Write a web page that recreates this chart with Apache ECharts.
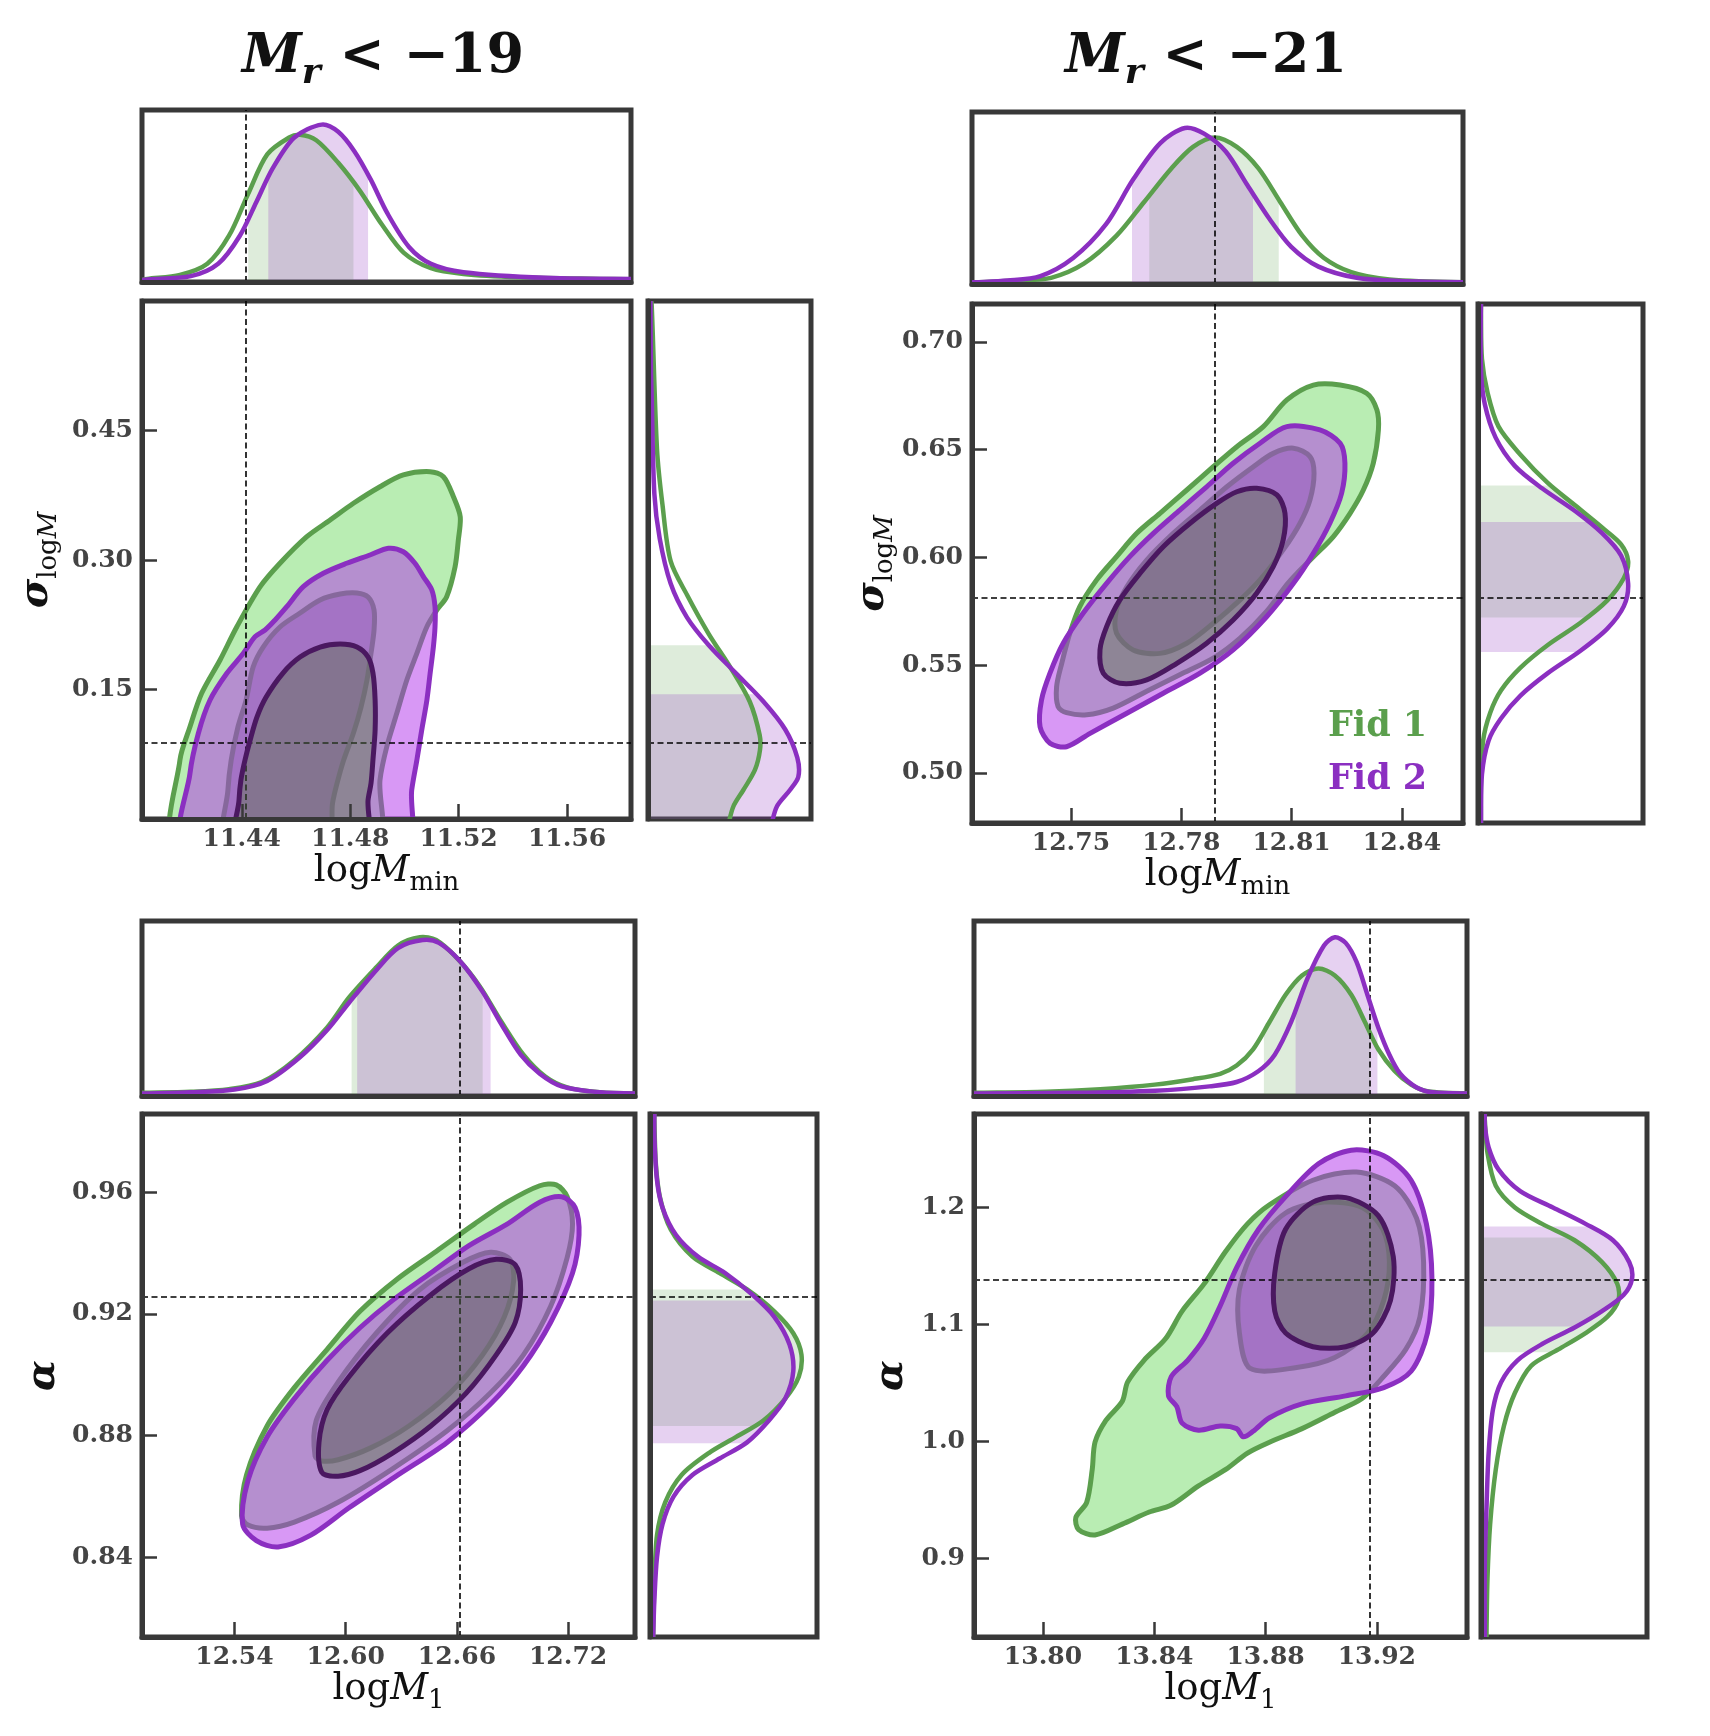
<!DOCTYPE html>
<html><head><meta charset="utf-8">
<script src="https://cdn.jsdelivr.net/npm/echarts@6/dist/echarts.min.js"></script>
<style>html,body{margin:0;padding:0;background:#fff}#c{width:1710px;height:1736px}</style>
</head><body><div id="c"></div><script>
// ---------------- DATA ----------------
// Panel A: Mr < -19, logMmin vs sigma_logM
const xTicksA = [11.44, 11.48, 11.52, 11.56];
const yTicksA = [0.15, 0.30, 0.45];
const truthA = [11.4416, 0.0884];
const fid1OuterA = [[11.4160,-0.03],[11.4172,0.0683],[11.4209,0.1069],[11.4252,0.1456],[11.4320,0.1842],[11.4382,0.2227],[11.4468,0.2691],[11.4541,0.2962],[11.4640,0.3270],[11.4726,0.3463],[11.4812,0.3657],[11.4910,0.3849],[11.4996,0.3985],[11.5095,0.4023],[11.5144,0.3965],[11.5181,0.3733],[11.5206,0.3502],[11.5199,0.3232],[11.5187,0.2922],[11.5156,0.2575],[11.5120,0.2421],[11.5083,0.2227],[11.5046,0.1919],[11.5009,0.1610],[11.4972,0.1224],[11.4935,0.0837],[11.4910,0.0452],[11.4895,-0.03]];
const fid1InnerA = [[11.4342,-0.03],[11.4349,0.0336],[11.4361,0.0683],[11.4386,0.1066],[11.4416,0.1378],[11.4442,0.1761],[11.4479,0.1992],[11.4541,0.2224],[11.4615,0.2386],[11.4689,0.2537],[11.4763,0.2606],[11.4825,0.2618],[11.4866,0.2571],[11.4888,0.2421],[11.4888,0.2189],[11.4877,0.1923],[11.4862,0.1610],[11.4840,0.1297],[11.4812,0.0996],[11.4776,0.0683],[11.4750,0.0394],[11.4735,0.0185],[11.4712,-0.03]];
const fid2OuterA = [[11.4191,-0.03],[11.4209,0.0529],[11.4240,0.0993],[11.4283,0.1378],[11.4345,0.1688],[11.4406,0.1919],[11.4449,0.2112],[11.4486,0.2189],[11.4523,0.2305],[11.4566,0.2459],[11.4627,0.2691],[11.4701,0.2846],[11.4787,0.2962],[11.4873,0.3058],[11.4941,0.3136],[11.4996,0.3096],[11.5039,0.2962],[11.5070,0.2807],[11.5101,0.2653],[11.5113,0.2459],[11.5113,0.2227],[11.5107,0.1996],[11.5095,0.1688],[11.5083,0.1378],[11.5064,0.1031],[11.5046,0.0683],[11.5027,0.0336],[11.5005,-0.03]];
const fid2InnerA = [[11.4384,-0.03],[11.4390,0.0220],[11.4397,0.0452],[11.4412,0.0683],[11.4431,0.0915],[11.4456,0.1181],[11.4490,0.1413],[11.4552,0.1691],[11.4615,0.1876],[11.4689,0.1992],[11.4763,0.2027],[11.4825,0.1992],[11.4866,0.1876],[11.4884,0.1691],[11.4892,0.1378],[11.4892,0.1031],[11.4884,0.0683],[11.4877,0.0417],[11.4866,0.0220],[11.4855,-0.03]];
const fid1TopA = [[11.4032,0.012],[11.4051,0.018],[11.4172,0.041],[11.4273,0.106],[11.4353,0.269],[11.4424,0.514],[11.4494,0.742],[11.4575,0.840],[11.4615,0.856],[11.4675,0.824],[11.4756,0.693],[11.4836,0.530],[11.4917,0.334],[11.4997,0.171],[11.5098,0.080],[11.5218,0.047],[11.5420,0.028],[11.5721,0.018],[11.5836,0.016]];
const fid2TopA = [[11.4032,0.012],[11.4051,0.015],[11.4212,0.034],[11.4313,0.106],[11.4393,0.269],[11.4454,0.465],[11.4514,0.660],[11.4594,0.840],[11.4695,0.915],[11.4756,0.873],[11.4816,0.759],[11.4876,0.595],[11.4937,0.400],[11.5017,0.204],[11.5098,0.106],[11.5218,0.057],[11.5520,0.024],[11.5836,0.018]];
const fid1RightA = [[0.015,0.600],[0.022,0.598],[0.055,0.4287],[0.089,0.3636],[0.139,0.2986],[0.239,0.2597],[0.373,0.2142],[0.507,0.1751],[0.624,0.1361],[0.685,0.0972],[0.687,0.0799],[0.656,0.0568],[0.585,0.0336],[0.523,0.0142],[0.490,-0.01]];
const fid2RightA = [[0.015,0.600],[0.018,0.52],[0.022,0.4937],[0.039,0.3767],[0.072,0.3247],[0.139,0.2727],[0.239,0.2336],[0.373,0.2012],[0.540,0.1687],[0.708,0.1361],[0.842,0.1037],[0.916,0.0711],[0.922,0.0486],[0.871,0.0336],[0.790,0.0143],[0.755,-0.01]];
const band1TopA = [11.4424, 11.4812], band2TopA = [11.4498, 11.4866];
const band1RightA = [-0.01, 0.2012], band2RightA = [-0.01, 0.1446];

// Panel B: Mr < -21, logMmin vs sigma_logM
const xTicksB = [12.75, 12.78, 12.81, 12.84];
const yTicksB = [0.50, 0.55, 0.60, 0.65, 0.70];
const truthB = [12.7891, 0.5814];
const fid1OuterB = [[12.8159,0.6800],[12.8232,0.6800],[12.8304,0.6762],[12.8332,0.6684],[12.8336,0.6592],[12.8322,0.6437],[12.8295,0.6313],[12.8259,0.6205],[12.8213,0.6096],[12.8160,0.6004],[12.8115,0.5927],[12.8087,0.5874],[12.8032,0.5750],[12.7960,0.5626],[12.7887,0.5533],[12.7796,0.5456],[12.7706,0.5379],[12.7615,0.5301],[12.7543,0.5270],[12.7488,0.5280],[12.7465,0.5308],[12.7461,0.5400],[12.7475,0.5509],[12.7497,0.5648],[12.7524,0.5772],[12.7570,0.5896],[12.7624,0.6004],[12.7679,0.6112],[12.7742,0.6205],[12.7815,0.6313],[12.7887,0.6421],[12.7951,0.6514],[12.8023,0.6607],[12.8087,0.6731]];
const fid1InnerB = [[12.8105,0.6507],[12.8150,0.6468],[12.8161,0.6391],[12.8150,0.6267],[12.8123,0.6159],[12.8077,0.6035],[12.8014,0.5896],[12.7960,0.5803],[12.7887,0.5695],[12.7815,0.5602],[12.7742,0.5555],[12.7669,0.5571],[12.7624,0.5648],[12.7624,0.5756],[12.7652,0.5864],[12.7706,0.5988],[12.7778,0.6112],[12.7851,0.6220],[12.7924,0.6328],[12.7996,0.6421],[12.8050,0.6483]];
const fid2OuterB = [[12.8087,0.6607],[12.8177,0.6592],[12.8232,0.6530],[12.8245,0.6437],[12.8236,0.6298],[12.8204,0.6159],[12.8159,0.6019],[12.8105,0.5880],[12.8032,0.5725],[12.7941,0.5571],[12.7851,0.5463],[12.7751,0.5370],[12.7652,0.5277],[12.7552,0.5184],[12.7488,0.5122],[12.7443,0.5138],[12.7416,0.5215],[12.7420,0.5339],[12.7443,0.5463],[12.7479,0.5602],[12.7533,0.5741],[12.7597,0.5880],[12.7660,0.6004],[12.7724,0.6112],[12.7796,0.6220],[12.7869,0.6328],[12.7941,0.6437],[12.8014,0.6530]];
const fid2InnerB = [[12.8005,0.6321],[12.8060,0.6290],[12.8082,0.6205],[12.8077,0.6081],[12.8050,0.5957],[12.8005,0.5834],[12.7941,0.5710],[12.7869,0.5602],[12.7788,0.5509],[12.7706,0.5432],[12.7633,0.5416],[12.7588,0.5463],[12.7579,0.5571],[12.7597,0.5679],[12.7633,0.5803],[12.7688,0.5927],[12.7751,0.6050],[12.7824,0.6159],[12.7896,0.6251],[12.7951,0.6305]];
const fid1TopB = [[12.7231,0.010],[12.7239,0.010],[12.7357,0.020],[12.7446,0.036],[12.7535,0.118],[12.7624,0.281],[12.7699,0.477],[12.7773,0.672],[12.7832,0.797],[12.7891,0.852],[12.7951,0.797],[12.8010,0.672],[12.8069,0.477],[12.8129,0.281],[12.8188,0.151],[12.8262,0.069],[12.8366,0.026],[12.8566,0.010]];
const fid2TopB = [[12.7231,0.010],[12.7239,0.010],[12.7328,0.020],[12.7417,0.046],[12.7506,0.151],[12.7595,0.346],[12.7669,0.607],[12.7743,0.819],[12.7810,0.907],[12.7862,0.874],[12.7921,0.770],[12.7980,0.574],[12.8040,0.378],[12.8099,0.216],[12.8173,0.101],[12.8277,0.036],[12.8396,0.017],[12.8566,0.010]];
const fid1RightB = [[0.018,0.7176],[0.018,0.7128],[0.024,0.6921],[0.058,0.6764],[0.124,0.6608],[0.256,0.6478],[0.421,0.6347],[0.586,0.6243],[0.752,0.6139],[0.867,0.6061],[0.910,0.5983],[0.884,0.5905],[0.784,0.5801],[0.619,0.5696],[0.421,0.5593],[0.256,0.5488],[0.140,0.5384],[0.074,0.5280],[0.031,0.5150],[0.018,0.4942],[0.018,0.4768]];
const fid2RightB = [[0.018,0.7176],[0.018,0.6868],[0.041,0.6712],[0.107,0.6556],[0.223,0.6425],[0.388,0.6321],[0.586,0.6217],[0.752,0.6113],[0.867,0.6009],[0.910,0.5879],[0.884,0.5774],[0.784,0.5670],[0.619,0.5566],[0.421,0.5462],[0.256,0.5358],[0.140,0.5254],[0.064,0.5150],[0.024,0.4994],[0.018,0.4785],[0.018,0.4768]];
const band1TopB = [12.7713, 12.8065], band2TopB = [12.7666, 12.7995];
const band1RightB = [0.5722, 0.6334], band2RightB = [0.5561, 0.6165];

// Panel C: Mr < -19, logM1 vs alpha
const xTicksC = [12.54, 12.60, 12.66, 12.72];
const yTicksC = [0.84, 0.88, 0.92, 0.96];
const truthC = [12.6615, 0.9255];
const fid1OuterC = [[12.5438,0.8535],[12.5465,0.8670],[12.5576,0.8831],[12.5723,0.8957],[12.5900,0.9083],[12.6077,0.9208],[12.6282,0.9316],[12.6488,0.9405],[12.6694,0.9495],[12.6871,0.9567],[12.7047,0.9621],[12.7136,0.9624],[12.7195,0.9585],[12.7224,0.9495],[12.7195,0.9385],[12.7106,0.9225],[12.6959,0.9065],[12.6782,0.8940],[12.6547,0.8815],[12.6253,0.8690],[12.5959,0.8580],[12.5723,0.8515],[12.5576,0.8495],[12.5473,0.8505]];
const fid1InnerC = [[12.5835,0.8732],[12.5841,0.8849],[12.5959,0.8975],[12.6165,0.9136],[12.6400,0.9280],[12.6636,0.9370],[12.6782,0.9402],[12.6886,0.9379],[12.6906,0.9307],[12.6856,0.9190],[12.6739,0.9065],[12.6562,0.8939],[12.6341,0.8831],[12.6135,0.8759],[12.5959,0.8720],[12.5871,0.8716]];
const fid2OuterC = [[12.5444,0.8508],[12.5473,0.8652],[12.5576,0.8795],[12.5723,0.8921],[12.5900,0.9047],[12.6077,0.9154],[12.6253,0.9244],[12.6459,0.9334],[12.6665,0.9424],[12.6871,0.9495],[12.7047,0.9567],[12.7165,0.9585],[12.7238,0.9549],[12.7259,0.9459],[12.7224,0.9334],[12.7106,0.9172],[12.6959,0.9029],[12.6782,0.8903],[12.6547,0.8777],[12.6282,0.8670],[12.6018,0.8562],[12.5812,0.8472],[12.5635,0.8433],[12.5518,0.8454]];
const fid2InnerC = [[12.5871,0.8679],[12.5856,0.8777],[12.5900,0.8885],[12.6018,0.8993],[12.6223,0.9136],[12.6459,0.9262],[12.6665,0.9348],[12.6812,0.9379],[12.6915,0.9361],[12.6944,0.9280],[12.6915,0.9172],[12.6812,0.9065],[12.6650,0.8939],[12.6459,0.8831],[12.6253,0.8742],[12.6077,0.8684],[12.5959,0.8666]];
const fid1TopC = [[12.4901,0.018],[12.4914,0.018],[12.5164,0.024],[12.5370,0.039],[12.5547,0.080],[12.5723,0.205],[12.5900,0.392],[12.6018,0.563],[12.6165,0.735],[12.6282,0.860],[12.6400,0.907],[12.6488,0.891],[12.6606,0.782],[12.6724,0.626],[12.6841,0.423],[12.6959,0.236],[12.7077,0.111],[12.7195,0.049],[12.7371,0.021],[12.7561,0.015]];
const fid2TopC = [[12.4901,0.015],[12.4914,0.015],[12.5164,0.021],[12.5400,0.037],[12.5576,0.086],[12.5753,0.221],[12.5900,0.377],[12.6018,0.533],[12.6165,0.719],[12.6282,0.845],[12.6415,0.891],[12.6503,0.875],[12.6621,0.766],[12.6739,0.595],[12.6841,0.408],[12.6944,0.236],[12.7047,0.127],[12.7165,0.055],[12.7371,0.021],[12.7561,0.015]];
const fid1RightC = [[0.026,0.9857],[0.026,0.9836],[0.035,0.9693],[0.059,0.9585],[0.124,0.9477],[0.254,0.9388],[0.417,0.9334],[0.581,0.9280],[0.744,0.9208],[0.858,0.9136],[0.907,0.9065],[0.891,0.8993],[0.810,0.8921],[0.679,0.8849],[0.516,0.8795],[0.352,0.8742],[0.189,0.8670],[0.091,0.8580],[0.042,0.8472],[0.026,0.8311],[0.019,0.8137]];
const fid2RightC = [[0.026,0.9857],[0.026,0.9782],[0.042,0.9639],[0.075,0.9549],[0.156,0.9459],[0.287,0.9388],[0.450,0.9334],[0.614,0.9262],[0.744,0.9190],[0.835,0.9100],[0.858,0.9011],[0.810,0.8921],[0.712,0.8849],[0.581,0.8777],[0.417,0.8724],[0.254,0.8670],[0.140,0.8598],[0.075,0.8508],[0.042,0.8400],[0.026,0.8257],[0.019,0.8137]];
const band1TopC = [12.6032, 12.6739], band2TopC = [12.6062, 12.6782];
const band1RightC = [0.8831, 0.9280], band2RightC = [0.8774, 0.9244];

// Panel D: Mr < -21, logM1 vs alpha
const xTicksD = [13.80, 13.84, 13.88, 13.92];
const yTicksD = [0.9, 1.0, 1.1, 1.2];
const truthD = [13.9176, 1.1384];
const fid1OuterD = [[13.8128,0.9247],[13.8118,0.9350],[13.8157,0.9480],[13.8177,0.9761],[13.8187,0.9994],[13.8226,1.0180],[13.8285,1.0344],[13.8304,1.0507],[13.8363,1.0694],[13.8441,1.0880],[13.8500,1.1114],[13.8579,1.1347],[13.8657,1.1626],[13.8735,1.1860],[13.8814,1.2023],[13.8970,1.2233],[13.9127,1.2303],[13.9264,1.2186],[13.9343,1.1907],[13.9368,1.1533],[13.9355,1.1067],[13.9304,1.0787],[13.9215,1.0531],[13.9147,1.0367],[13.9049,1.0250],[13.8931,1.0110],[13.8814,0.9994],[13.8735,0.9901],[13.8657,0.9761],[13.8559,0.9621],[13.8461,0.9457],[13.8382,0.9397],[13.8285,0.9294],[13.8187,0.9201]];
const fid1InnerD = [[13.8745,1.0624],[13.8706,1.0927],[13.8706,1.1300],[13.8765,1.1673],[13.8872,1.1953],[13.9010,1.2046],[13.9147,1.2000],[13.9221,1.1814],[13.9245,1.1533],[13.9225,1.1207],[13.9167,1.0927],[13.9049,1.0717],[13.8912,1.0632]];
const fid2OuterD = [[13.8481,1.0297],[13.8451,1.0390],[13.8461,1.0554],[13.8520,1.0694],[13.8579,1.0880],[13.8637,1.1160],[13.8696,1.1486],[13.8775,1.1814],[13.8872,1.2093],[13.8990,1.2374],[13.9108,1.2490],[13.9225,1.2443],[13.9323,1.2233],[13.9378,1.1860],[13.9398,1.1393],[13.9382,1.0927],[13.9323,1.0600],[13.9225,1.0461],[13.9088,1.0390],[13.8931,1.0321],[13.8814,1.0203],[13.8755,1.0087],[13.8720,1.0040],[13.8696,1.0110],[13.8637,1.0133],[13.8559,1.0097],[13.8500,1.0157]];
const fid2InnerD = [[13.8833,1.1114],[13.8833,1.1440],[13.8872,1.1814],[13.8970,1.2046],[13.9088,1.2084],[13.9205,1.1930],[13.9259,1.1580],[13.9249,1.1207],[13.9186,1.0927],[13.9088,1.0810],[13.8970,1.0810],[13.8872,1.0927]];
const fid1TopD = [[13.7752,0.018],[13.7756,0.018],[13.8010,0.024],[13.8206,0.039],[13.8402,0.065],[13.8539,0.096],[13.8637,0.127],[13.8696,0.174],[13.8755,0.267],[13.8814,0.423],[13.8872,0.579],[13.8931,0.689],[13.8990,0.729],[13.9049,0.689],[13.9108,0.579],[13.9157,0.423],[13.9205,0.267],[13.9264,0.143],[13.9323,0.065],[13.9382,0.027],[13.9524,0.015]];
const fid2TopD = [[13.7752,0.015],[13.7756,0.015],[13.8108,0.018],[13.8402,0.030],[13.8598,0.055],[13.8696,0.080],[13.8775,0.143],[13.8833,0.236],[13.8892,0.423],[13.8951,0.673],[13.9010,0.860],[13.9049,0.907],[13.9088,0.875],[13.9127,0.766],[13.9166,0.579],[13.9205,0.392],[13.9245,0.236],[13.9284,0.127],[13.9343,0.049],[13.9401,0.021],[13.9524,0.015]];
const fid1RightD = [[0.023,1.2799],[0.023,1.2746],[0.039,1.2467],[0.089,1.2186],[0.204,1.2000],[0.368,1.1860],[0.564,1.1720],[0.729,1.1533],[0.821,1.1347],[0.828,1.1207],[0.762,1.1067],[0.630,1.0927],[0.466,1.0787],[0.302,1.0647],[0.204,1.0414],[0.138,1.0133],[0.089,0.9761],[0.055,0.9294],[0.039,0.8827],[0.033,0.8329]];
const fid2RightD = [[0.023,1.2799],[0.023,1.2700],[0.046,1.2513],[0.105,1.2326],[0.236,1.2140],[0.433,1.2000],[0.630,1.1860],[0.795,1.1720],[0.893,1.1533],[0.910,1.1393],[0.860,1.1254],[0.729,1.1114],[0.564,1.0974],[0.368,1.0833],[0.220,1.0694],[0.121,1.0507],[0.072,1.0274],[0.046,0.9901],[0.033,0.9434],[0.023,0.8968],[0.023,0.8329]];
const band1TopD = [13.8794, 13.9176], band2TopD = [13.8908, 13.9202];
const band1RightD = [1.0763, 1.1744], band2RightD = [1.0983, 1.1837];

// ---------------- STYLE / LAYOUT ----------------
const FONT = 'DejaVu Serif';
const GREEN = '#5b9f4d', PURPLE = '#8b2fc1', DARK = '#4a1860', FRAME = '#383838';
const G1FILL = '#b9edb3', G2FILL = 'rgb(150,180,158)';
const P1FILL = 'rgba(177,49,235,0.5)', P2FILL = 'rgba(88,118,72,0.42)';
const GBAND = 'rgba(91,159,77,0.2)', PBAND = 'rgba(139,47,193,0.22)';
const SM = 0.3, CW = 5, MW = 4.5;

const panels = [
  {main:[142,301,489,518], top:[142,110,489,172], right:[648,301,163,518], xr:[11.4032,11.5836], yr:[0,0.6],
   xt:xTicksA, yt:yTicksA, yd:2, truth:truthA, xName:'{a|log}{b|M}{c|min}', yName:'{g|σ}{c|log}{d|M}', yGap:80,
   c:[fid1OuterA,fid1InnerA,fid2OuterA,fid2InnerA], top1:fid1TopA, top2:fid2TopA, r1:fid1RightA, r2:fid2RightA,
   bt1:band1TopA, bt2:band2TopA, br1:band1RightA, br2:band2RightA},
  {main:[972,304,491,519], top:[972,112,491,172], right:[1478,304,165,519], xr:[12.7231,12.8566], yr:[0.4768,0.7176],
   xt:xTicksB, yt:yTicksB, yd:2, truth:truthB, xName:'{a|log}{b|M}{c|min}', yName:'{g|σ}{c|log}{d|M}', yGap:74,
   c:[fid1OuterB,fid1InnerB,fid2OuterB,fid2InnerB], top1:fid1TopB, top2:fid2TopB, r1:fid1RightB, r2:fid2RightB,
   bt1:band1TopB, bt2:band2TopB, br1:band1RightB, br2:band2RightB},
  {main:[142,1114,493,523], top:[142,921,493,175], right:[650,1114,167,523], xr:[12.4901,12.7561], yr:[0.8137,0.9857],
   xt:xTicksC, yt:yTicksC, yd:2, truth:truthC, xName:'{a|log}{b|M}{c|1}', yName:'{g|α}', yGap:78,
   c:[fid1OuterC,fid1InnerC,fid2OuterC,fid2InnerC], top1:fid1TopC, top2:fid2TopC, r1:fid1RightC, r2:fid2RightC,
   bt1:band1TopC, bt2:band2TopC, br1:band1RightC, br2:band2RightC},
  {main:[974,1114,493,523], top:[974,921,493,175], right:[1481,1114,166,523], xr:[13.7752,13.9524], yr:[0.8329,1.2799],
   xt:xTicksD, yt:yTicksD, yd:1, truth:truthD, xName:'{a|log}{b|M}{c|1}', yName:'{g|α}', yGap:62,
   c:[fid1OuterD,fid1InnerD,fid2OuterD,fid2InnerD], top1:fid1TopD, top2:fid2TopD, r1:fid1RightD, r2:fid2RightD,
   bt1:band1TopD, bt2:band2TopD, br1:band1RightD, br2:band2RightD}
];

const nameRich = {
  a:{fontFamily:FONT, fontSize:37, color:'#111'},
  b:{fontFamily:FONT, fontSize:37, fontStyle:'italic', color:'#111'},
  c:{fontFamily:FONT, fontSize:26, color:'#111', padding:[24,0,0,0]},
  d:{fontFamily:FONT, fontSize:26, fontStyle:'italic', color:'#111', padding:[24,0,0,0]},
  g:{fontFamily:FONT, fontSize:40, fontStyle:'italic', fontWeight:'bold', color:'#111'}
};
const labelStyle = {fontFamily:FONT, fontWeight:'bold', fontSize:25, color:'#444'};
const frameLine = {show:true, onZero:false, lineStyle:{color:FRAME, width:5}};

function gridOf(r){ return {left:r[0], top:r[1], width:r[2], height:r[3], show:true, borderColor:FRAME, borderWidth:5, backgroundColor:'transparent', containLabel:false}; }

function polySeries(name, gi, pts, fill, stroke, z){
  return {type:'custom', name, xAxisIndex:gi, yAxisIndex:gi, data:pts, z, clip:true, silent:true,
    renderItem:function(params, api){
      if (params.dataIndex !== 0) return null;
      return {type:'polygon', shape:{points:pts.map(p=>api.coord(p)), smooth:SM},
              style:{fill:fill, stroke:stroke, lineWidth:CW, lineJoin:'round'}};
    }};
}
function curveSeries(name, gi, pts, color, z){
  return {type:'custom', name, xAxisIndex:gi, yAxisIndex:gi, data:pts, z, clip:true, silent:true,
    renderItem:function(params, api){
      if (params.dataIndex !== 0) return null;
      return {type:'polyline', shape:{points:pts.map(p=>api.coord(p)), smooth:SM},
              style:{fill:'none', stroke:color, lineWidth:MW, lineJoin:'round'}};
    }};
}
function bandSeries(name, gi, pts, range, fill, z, vertical){
  return {type:'custom', name, xAxisIndex:gi, yAxisIndex:gi, data:pts, z, clip:true, silent:true,
    renderItem:function(params, api){
      if (params.dataIndex !== 0) return null;
      const n = pts.length;
      let poly, a, b;
      if (!vertical) {
        poly = [api.coord([pts[0][0], -0.05])].concat(pts.map(p=>api.coord(p)), [api.coord([pts[n-1][0], -0.05])]);
        a = api.coord([range[0], 1]); b = api.coord([range[1], 0]);
      } else {
        poly = [api.coord([-0.05, pts[0][1]])].concat(pts.map(p=>api.coord(p)), [api.coord([-0.05, pts[n-1][1]])]);
        a = api.coord([0, range[1]]); b = api.coord([1, range[0]]);
      }
      return {type:'polygon', shape:{points:poly, smooth:SM}, style:{fill:fill},
              clipPath:{type:'rect', shape:{x:a[0], y:a[1], width:b[0]-a[0], height:b[1]-a[1]}}};
    }};
}
function truthSeries(gi, lines){
  return {type:'line', name:'truth', xAxisIndex:gi, yAxisIndex:gi, data:[], z:8, silent:true,
    markLine:{silent:true, precision:6, symbol:['none','none'], label:{show:false}, animation:false,
      lineStyle:{color:'#000', width:1.6, type:[6,3.5]}, emphasis:{disabled:true}, data:lines}};
}

const grid = [], xAxis = [], yAxis = [], series = [];
panels.forEach((p, i) => {
  const gm = 3*i, gt = 3*i+1, gr = 3*i+2;
  grid.push(gridOf(p.main), gridOf(p.top), gridOf(p.right));
  xAxis.push({type:'value', gridIndex:gm, min:p.xr[0], max:p.xr[1], z:10, axisLine:frameLine,
    axisTick:{show:true, inside:true, length:15, customValues:p.xt, lineStyle:{color:FRAME, width:2.5}},
    axisLabel:{show:true, customValues:p.xt, margin:8, formatter:v=>v.toFixed(2), ...labelStyle},
    splitLine:{show:false}, name:p.xName, nameLocation:'middle', nameGap:27, nameTextStyle:{rich:nameRich}});
  yAxis.push({type:'value', gridIndex:gm, min:p.yr[0], max:p.yr[1], z:10, axisLine:frameLine,
    axisTick:{show:true, inside:true, length:15, customValues:p.yt, lineStyle:{color:FRAME, width:2.5}},
    axisLabel:{show:true, customValues:p.yt, margin:9, formatter:v=>v.toFixed(p.yd), ...labelStyle},
    splitLine:{show:false}, name:p.yName, nameLocation:'middle', nameGap:p.yGap, nameTextStyle:{rich:nameRich}});
  xAxis.push({type:'value', gridIndex:gt, min:p.xr[0], max:p.xr[1], z:10, axisLine:frameLine,
    axisTick:{show:false}, axisLabel:{show:false}, splitLine:{show:false}});
  yAxis.push({type:'value', gridIndex:gt, min:0, max:1, show:false, splitLine:{show:false}});
  xAxis.push({type:'value', gridIndex:gr, min:0, max:1, show:false, splitLine:{show:false}});
  yAxis.push({type:'value', gridIndex:gr, min:p.yr[0], max:p.yr[1], z:10, axisLine:frameLine,
    axisTick:{show:false}, axisLabel:{show:false}, splitLine:{show:false}});

  series.push(
    polySeries('Fid 1', gm, p.c[0], G1FILL, GREEN, 2),
    polySeries('Fid 1', gm, p.c[1], G2FILL, GREEN, 3),
    polySeries('Fid 2', gm, p.c[2], P1FILL, PURPLE, 4),
    polySeries('Fid 2', gm, p.c[3], P2FILL, DARK, 5),
    bandSeries('Fid 1', gt, p.top1, p.bt1, GBAND, 2, false),
    bandSeries('Fid 2', gt, p.top2, p.bt2, PBAND, 3, false),
    curveSeries('Fid 1', gt, p.top1, GREEN, 4),
    curveSeries('Fid 2', gt, p.top2, PURPLE, 5),
    bandSeries('Fid 1', gr, p.r1, p.br1, GBAND, 2, true),
    bandSeries('Fid 2', gr, p.r2, p.br2, PBAND, 3, true),
    curveSeries('Fid 1', gr, p.r1, GREEN, 4),
    curveSeries('Fid 2', gr, p.r2, PURPLE, 5),
    truthSeries(gm, [{xAxis:p.truth[0]}, {yAxis:p.truth[1]}]),
    truthSeries(gt, [{xAxis:p.truth[0]}]),
    truthSeries(gr, [{yAxis:p.truth[1]}])
  );
});

const titleRich = {
  m:{fontFamily:FONT, fontSize:54, fontStyle:'italic', fontWeight:'bold', fill:'#111'},
  s:{fontFamily:FONT, fontSize:36, fontStyle:'italic', fontWeight:'bold', fill:'#111', padding:[32,0,0,0]},
  t:{fontFamily:FONT, fontSize:54, fontWeight:'bold', fill:'#111'}
};

const chart = echarts.init(document.getElementById('c'), null, {renderer:'canvas', width:1710, height:1736});
chart.setOption({
  backgroundColor:'#fff',
  animation:false,
  grid, xAxis, yAxis, series,
  legend:{left:1318, top:704, orient:'vertical', icon:'none', itemWidth:0, itemHeight:14, itemGap:18, selectedMode:false,
    textStyle:{fontFamily:FONT, fontWeight:'bold', fontSize:35},
    data:[{name:'Fid 1', textStyle:{color:GREEN}}, {name:'Fid 2', textStyle:{color:PURPLE}}]},
  graphic:[
    {type:'text', x:383, y:58, style:{text:'{m|M}{s|r}{t| < −19}', rich:titleRich, align:'center', verticalAlign:'middle'}},
    {type:'text', x:1206, y:58, style:{text:'{m|M}{s|r}{t| < −21}', rich:titleRich, align:'center', verticalAlign:'middle'}}
  ]
});
</script></body></html>
